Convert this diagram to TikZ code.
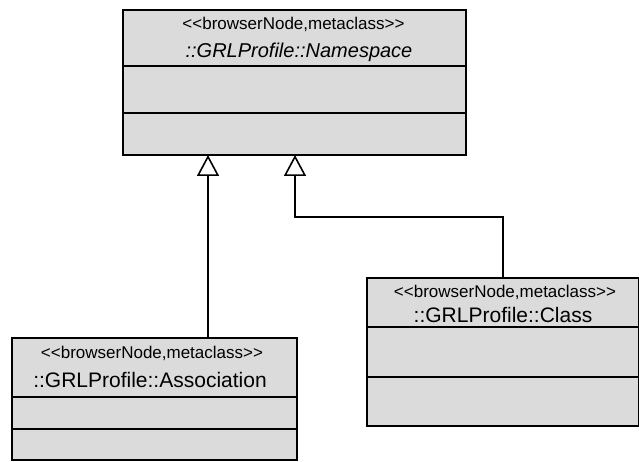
\documentclass[tikz,border=0pt]{standalone}
\usepackage{fontspec}
\setmainfont{Liberation Sans}
\usetikzlibrary{arrows.meta}
\newcommand{\stlbl}{<\kern0pt<browserNode,metaclass>\kern0pt>}
\begin{document}
\begin{tikzpicture}[x=1pt,y=-1pt,
  umlbox/.style={draw=black, line width=2pt, fill=black!14, rectangle, inner sep=0pt, anchor=north west},
  divider/.style={line width=2pt},
  stereo/.style={anchor=base, inner sep=0pt, font=\fontsize{17}{20}\selectfont},
  cname/.style={anchor=base, inner sep=0pt, font=\fontsize{21}{24}\selectfont},
  gen/.style={line width=2pt, -{Triangle[length=21pt, width=22pt, fill=white, line width=1.6pt]}}
]
\useasboundingbox (0,0) rectangle (639,462);
% Namespace
\node[umlbox, minimum width=343pt, minimum height=145pt] (ns) at (122,9) {};
\draw[divider] (122,66) -- (465,66);
\draw[divider] (122,113) -- (465,113);
\node[stereo] (nsst) at (293.5,30) {\stlbl};
\node[cname, font=\fontsize{20}{24}\selectfont\itshape] (nsnm) at (299,58) {::GRLProfile::Namespace};
% Association
\node[umlbox, minimum width=285pt, minimum height=122pt] (as) at (11,337) {};
\draw[divider] (11,397) -- (296,397);
\draw[divider] (11,429) -- (296,429);
\node[stereo] (asst) at (152,358) {\stlbl};
\node[cname] (asnm) at (150,387) {::GRLProfile::Association};
% Class
\node[umlbox, minimum width=272pt, minimum height=148pt] (cl) at (366,277) {};
\draw[divider] (366,327) -- (638,327);
\draw[divider] (366,377) -- (638,377);
\node[stereo] (clst) at (505,297) {\stlbl};
\node[cname] (clnm) at (503,322) {::GRLProfile::Class};
% connectors
\coordinate (a1) at (208,337);
\coordinate (a2) at (208,155);
\coordinate (c1) at (503,277);
\coordinate (c2) at (503,217);
\coordinate (c3) at (295,217);
\coordinate (c4) at (295,155);
\draw[gen] (a1) -- (a2);
\draw[gen] (c1) -- (c2) -- (c3) -- (c4);
\end{tikzpicture}
\end{document}
